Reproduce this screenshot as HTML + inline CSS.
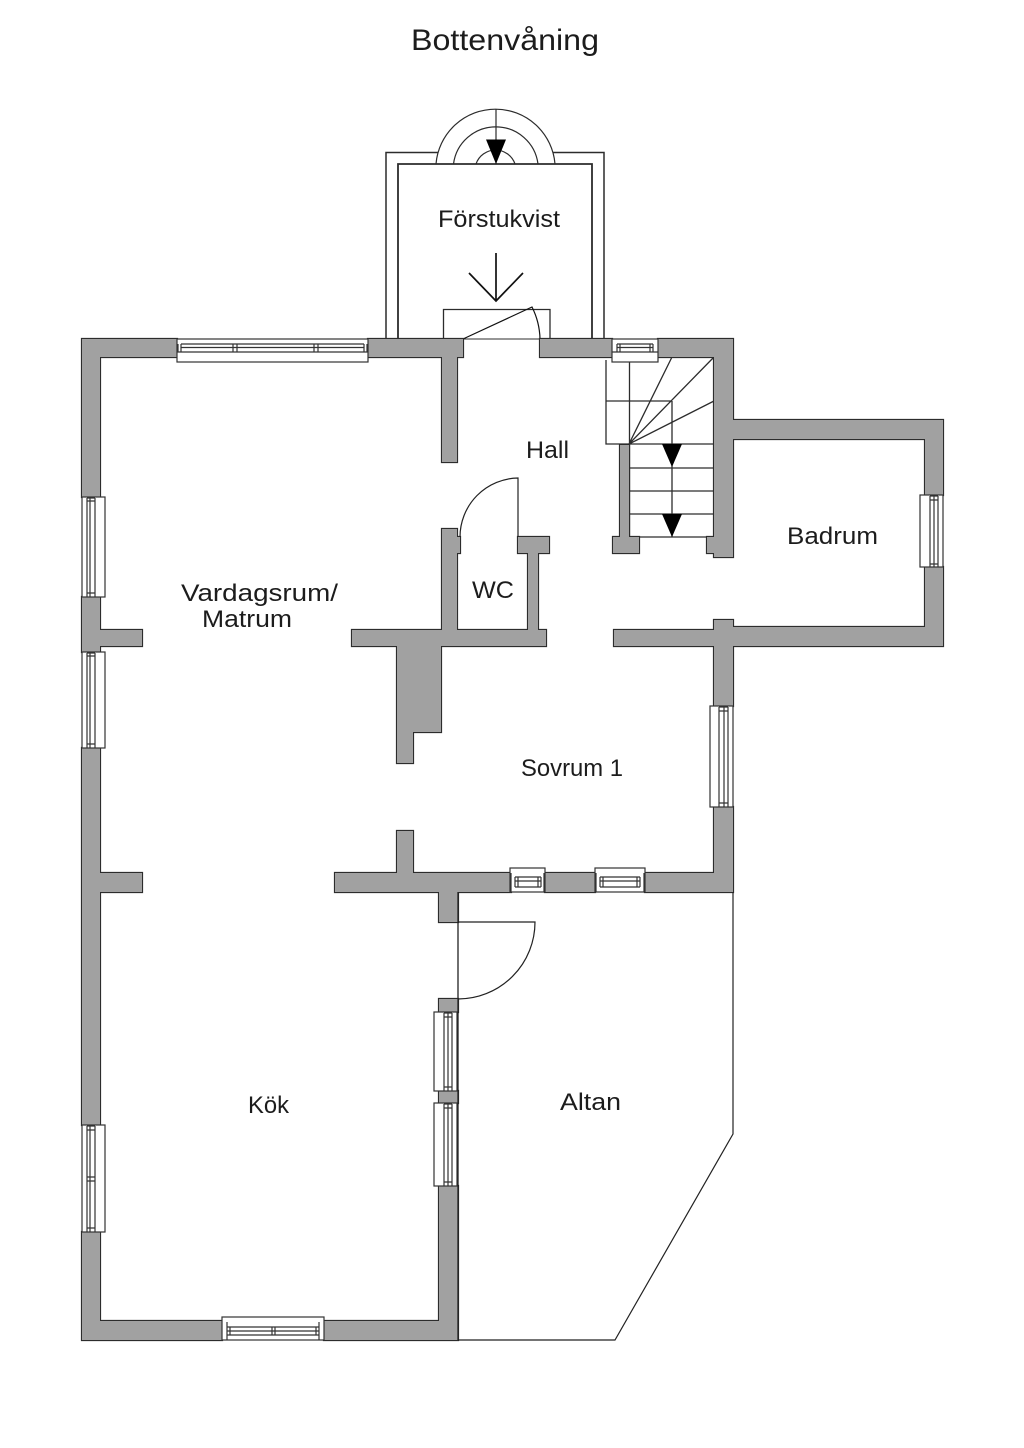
<!DOCTYPE html>
<html lang="sv">
<head>
<meta charset="utf-8">
<title>Bottenvåning</title>
<style>
html,body{margin:0;padding:0;background:#fff;}
svg{display:block;}
text{font-family:"Liberation Sans",sans-serif;fill:#1c1c1c;}
</style>
</head>
<body>
<svg xmlns="http://www.w3.org/2000/svg" width="1024" height="1448" viewBox="0 0 1024 1448">
<rect width="1024" height="1448" fill="#fff"/>

<!-- Porch -->
<g fill="none" stroke="#2c2c2c">
  <path stroke-width="1.5" d="M386 339V152.500H438M553 152.500H604V339"/>
  <path stroke-width="1.8" d="M398 339V164H592V339"/>
  <path stroke-width="1.2" d="M436 164A59.700 59.700 0 0 1 555 164M453.500 164A42.600 42.600 0 0 1 538 164M476 164A20.600 20.600 0 0 1 515 164"/>
  <path stroke-width="1.2" d="M496 109V164"/>
  <path stroke-width="1.3" d="M443.500 339V309.500H550V339"/>
  <path stroke-width="1.1" d="M463 339H540"/>
  <path stroke-width="1.2" stroke="#111" d="M463 339L532 307A75 75 0 0 1 540 339"/>
  <path stroke-width="1.7" stroke="#111" d="M496 253V301M469 273L496 301L523 273"/>
</g>
<polygon points="486,139.500 506,139.500 496,164" fill="#000"/>

<!-- Stairs -->
<g fill="none" stroke="#2c2c2c" stroke-width="1.3">
  <path d="M606 360V444H714M606 401H672M629.500 360V537M672 401V537M629 444L672 357M629 444L714 357M629 444L714 401"/>
  <path d="M629 468H714M629 491H714M629 514H714M629 537H714"/>
</g>
<polygon points="662,444 682,444 672,467" fill="#000"/>
<polygon points="662,514 682,514 672,537" fill="#000"/>

<!-- Walls -->
<defs>
<path id="w" d="M82 339H100V497H82ZM82 597H100V652H82ZM82 748H100V1125H82ZM82 1232H100V1340H82Z
M82 339H177V357H82ZM368 339H463V357H368ZM442 357H457V462H442ZM540 339H612V357H540ZM658 339H733V357H658ZM714 339H733V557H714ZM707 537H714V553H707Z
M620 445H629V537H620ZM613 537H639V553H613Z
M733 420H943V439H733ZM925 420H943V495H925ZM925 567H943V646H925ZM733 627H943V646H733ZM614 630H733V646H614ZM714 620H733V706H714ZM714 807H733V892H714Z
M100 630H142V646H100ZM100 873H142V892H100Z
M335 873H511V892H335ZM545 873H595V892H545ZM645 873H733V892H645ZM397 831H413V873H397ZM439 892H458V922H439ZM439 999H458V1012H439ZM439 1091H458V1103H439ZM439 1186H458V1340H439Z
M82 1321H222V1340H82ZM324 1321H458V1340H324Z
M352 630H546V646H352ZM442 529H457V630H442ZM457 537H460V553H457ZM528 553H538V630H528ZM518 537H549V553H518ZM397 646H441V732H397ZM397 732H413V763H397Z"/>
</defs>
<use href="#w" fill="none" stroke="#2c2c2c" stroke-width="2.2"/>
<use href="#w" fill="#a1a1a1"/>

<!-- Altan and doors -->
<g fill="none" stroke="#222" stroke-width="1.2">
  <path d="M733 892V1134L615 1340H458"/>
  <path d="M458 922H535A77 77 0 0 1 458 999"/>
  <path d="M518 537V478A59 59 0 0 0 460 537"/>
</g>

<!-- Windows -->
<g fill="#fff" stroke="#333" stroke-width="1.2">
  <!-- top long -->
  <rect x="177" y="339" width="191" height="23"/>
  <path fill="none" d="M177 352H368M181 344H364M181 347.500H364M178 344V352M181 344V352M364 344V352M367 344V352M233 344V352M237 344V352M314 344V352M318 344V352"/>
  <!-- top stair window -->
  <rect x="612" y="339" width="46" height="23"/>
  <path fill="none" d="M612 352H658M617 344H653M617 347.500H653M617 344V352M620 344V352M650 344V352M653 344V352"/>
  <!-- left 1 -->
  <rect x="82" y="497" width="23" height="100"/>
  <path fill="none" d="M87 498V597M90 498V597M95 498V597M87 498H95M87 501H95M87 593H95"/>
  <!-- left 2 -->
  <rect x="82" y="652" width="23" height="96"/>
  <path fill="none" d="M87 653V748M90 653V748M95 653V748M87 653H95M87 656H95M87 744H95"/>
  <!-- left Kök -->
  <rect x="82" y="1125" width="23" height="107"/>
  <path fill="none" d="M87 1126V1232M90 1126V1232M95 1126V1232M87 1126H95M87 1130H95M87 1177H95M87 1181H95M87 1228H95"/>
  <!-- right -->
  <rect x="710" y="706" width="23" height="101"/>
  <path fill="none" d="M719 707V807M724 707V807M728 707V807M719 707H728M719 711H728M719 803H728"/>
  <!-- Badrum -->
  <rect x="920" y="495" width="23" height="72"/>
  <path fill="none" d="M930 496V567M934 496V567M938 496V567M930 496H938M930 500H938M930 564H938"/>
  <!-- Sovrum bottom -->
  <rect x="510" y="868" width="35" height="24"/>
  <path fill="none" d="M515 877H541M515 881H541M515 887H541M515 877V887M518 877V887M538 877V887M541 877V887M511 873V892M544 873V892"/>
  <rect x="595" y="868" width="50" height="24"/>
  <path fill="none" d="M600 877H640M600 881H640M600 887H640M600 877V887M603 877V887M637 877V887M640 877V887M596 873V892M644 873V892"/>
  <!-- Kök east -->
  <rect x="434" y="1012" width="23" height="79"/>
  <path fill="none" d="M444 1013V1091M448 1013V1091M452 1013V1091M444 1013H452M444 1017H452M444 1087H452"/>
  <rect x="434" y="1103" width="23" height="83"/>
  <path fill="none" d="M444 1104V1186M448 1104V1186M452 1104V1186M444 1104H452M444 1108H452M444 1182H452"/>
  <!-- Kök bottom -->
  <rect x="222" y="1317" width="102" height="23"/>
  <path fill="none" d="M227 1327H319M227 1331H319M227 1335H319M227 1322V1340M230 1327V1335M272 1327V1335M275 1327V1335M316 1327V1335M319 1322V1340"/>
</g>
<path d="M458 892V1340" fill="none" stroke="#222" stroke-width="1.3"/>

<!-- Labels -->
<text x="411" y="50" font-size="30" textLength="188" lengthAdjust="spacingAndGlyphs">Bottenvåning</text>
<text x="438" y="227" font-size="24" textLength="122" lengthAdjust="spacingAndGlyphs">Förstukvist</text>
<text x="526" y="458" font-size="24" textLength="43" lengthAdjust="spacingAndGlyphs">Hall</text>
<text x="472" y="598" font-size="24" textLength="42" lengthAdjust="spacingAndGlyphs">WC</text>
<text x="787" y="544" font-size="24" textLength="91" lengthAdjust="spacingAndGlyphs">Badrum</text>
<text x="181" y="601" font-size="24" textLength="157" lengthAdjust="spacingAndGlyphs">Vardagsrum/</text>
<text x="202" y="627" font-size="24" textLength="90" lengthAdjust="spacingAndGlyphs">Matrum</text>
<text x="521" y="776" font-size="24" textLength="102" lengthAdjust="spacingAndGlyphs">Sovrum 1</text>
<text x="248" y="1113" font-size="24" textLength="41" lengthAdjust="spacingAndGlyphs">Kök</text>
<text x="560" y="1110" font-size="24" textLength="61" lengthAdjust="spacingAndGlyphs">Altan</text>
</svg>
</body>
</html>
